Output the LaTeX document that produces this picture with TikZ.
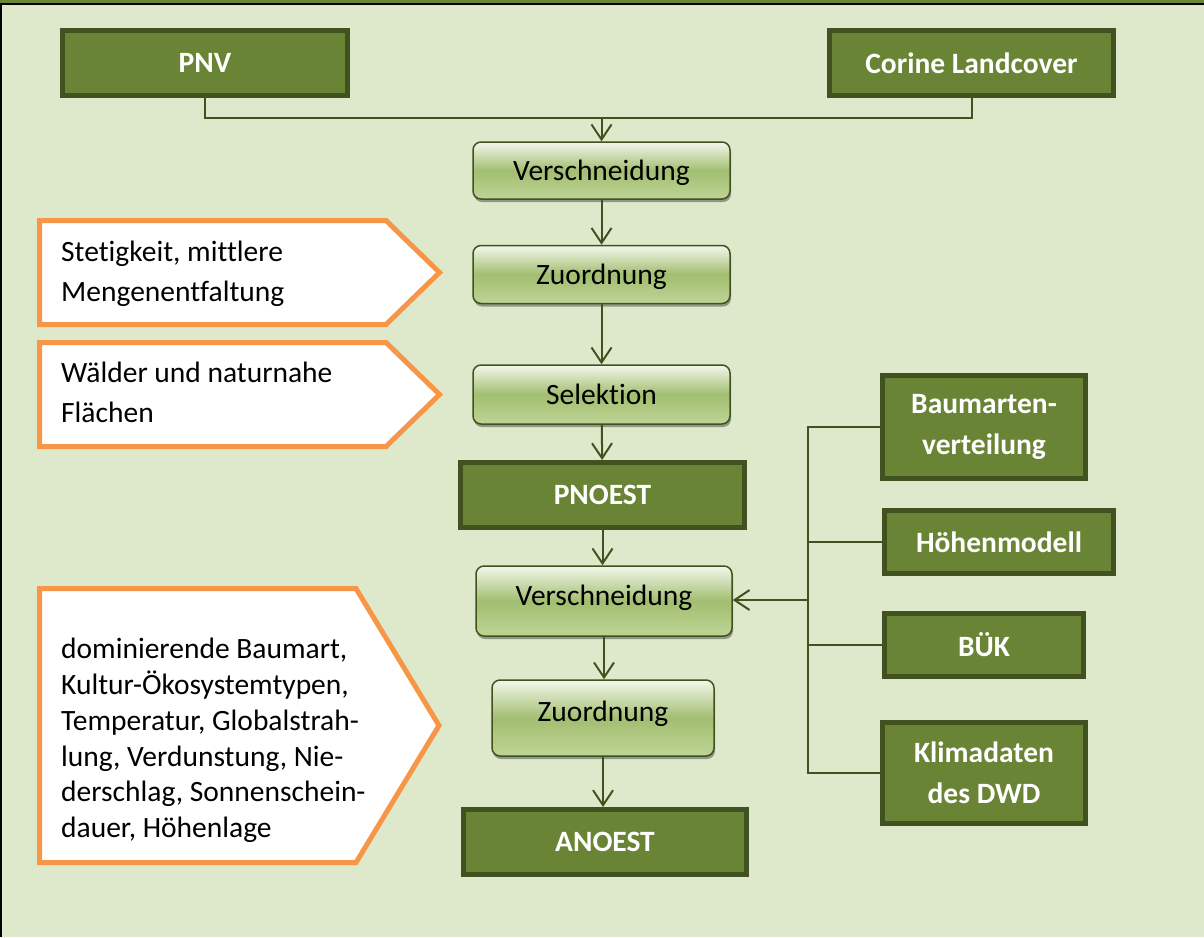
\documentclass[tikz,border=0pt]{standalone}
\usepackage{fontspec}
\setmainfont[Ligatures=NoCommon]{Carlito}
\usetikzlibrary{arrows.meta}
\usetikzlibrary{shadows}
\definecolor{hintergrund}{RGB}{222,232,203}
\definecolor{oliv}{RGB}{106,132,53}
\definecolor{olivdunkel}{RGB}{66,81,32}
\definecolor{rahmenorange}{RGB}{247,150,70}
\definecolor{schrittoben}{RGB}{243,247,236}
\definecolor{schrittmitte}{RGB}{162,190,112}
\definecolor{schrittunten}{RGB}{190,212,150}
\tikzset{
    daten/.style={
        draw=olivdunkel, line width=5pt, fill=oliv, text=white,
        font=\fontsize{29.5}{41}\selectfont\bfseries, align=center, inner sep=0pt
    },
    schritt/.style={
        draw=olivdunkel, line width=1.5pt, rounded corners=8pt,
        top color=schrittoben, bottom color=schrittunten, middle color=schrittmitte,
        drop shadow={shadow xshift=1pt, shadow yshift=-3pt, opacity=0.35, fill=black},
        font=\fontsize{29.5}{35}\selectfont, inner sep=0pt
    },
    tief/.style={text height=20pt, text depth=#1},
    linie/.style={draw=olivdunkel, line width=2pt},
    fluss/.style={linie, -{Straight Barb[length=15pt,width=20pt]}},
    hinweis/.style={draw=rahmenorange, line width=5pt, fill=white, line join=miter},
    hinweistext/.style={anchor=west, align=left, inner sep=0pt, font=\fontsize{29.5}{40}\selectfont}
}
\newcommand{\hinweis}[5] {
	\draw[hinweis] (#1,#2) -- (#4,#2) -- (#5,{(#2+#3)/2}) -- (#4,#3) -- (#1,#3) -- cycle;
}

\begin{document}
\begin{tikzpicture}[x=1pt,y=-1pt]
		\useasboundingbox (0,0) rectangle (1204,937);

		% Rahmen
		\fill[hintergrund] (0,0) rectangle (1204,937);
		\fill[oliv] (0,0) rectangle (1204,3);
		\fill[black] (0,3) rectangle (1204,4.5);
		\fill[black] (0,3) rectangle (1.5,937);

		% Quellen
		\node[daten, minimum width=285pt, minimum height=65pt] (pnv) at (205,63) {PNV};
		\node[daten, minimum width=284pt, minimum height=65pt] (corine) at (971.5,63) {Corine Landcover};

		% Ablauf
		\node[schritt, tief=-2pt, minimum width=257pt, minimum height=57pt] (versch1) at (601.5,170.5) {Verschneidung};
		\node[schritt, tief=-2pt, minimum width=257pt, minimum height=58pt] (zuord1) at (601.5,274.5) {Zuordnung};
		\node[schritt, tief=-2pt, minimum width=257pt, minimum height=59pt] (selekt) at (601.5,394.5) {Selektion};
		\node[daten, minimum width=284pt, minimum height=65pt] (pnoest) at (602.5,495) {PNOEST};
		\node[schritt, tief=11pt, minimum width=256pt, minimum height=70pt] (versch2) at (604,601) {Verschneidung};
		\node[schritt, tief=13pt, minimum width=222pt, minimum height=76pt] (zuord2) at (603,718) {Zuordnung};
		\node[daten, minimum width=283pt, minimum height=65pt] (anoest) at (605,842) {ANOEST};

		% Eingangsdaten rechts
		\node[daten, minimum width=203pt, minimum height=103pt] (baum) at (984,427) {Baumarten-\\verteilung};
		\node[daten, minimum width=229pt, minimum height=63pt] (hoehe) at (999,542) {Höhenmodell};
		\node[daten, minimum width=199pt, minimum height=63pt] (buek) at (984,645) {BÜK};
		\node[daten, minimum width=203pt, minimum height=101pt] (klima) at (984,773) {Klimadaten\\des DWD};

		% Verbindungen
		\coordinate (knoten) at (601.5,118);
		\draw[linie] (pnv.south) |- (knoten) -| (corine.south);
		\draw[fluss] (knoten) -- (versch1.north);
		\draw[fluss] (versch1) -- (zuord1);
		\draw[fluss] (zuord1) -- (selekt);
		\draw[fluss] (selekt) -- (pnoest);
		\draw[fluss] (pnoest.south) -- (pnoest.south |- versch2.north);
		\draw[fluss] (versch2.south) -- (versch2.south |- zuord2.north);
		\draw[fluss] (zuord2.south) -- (zuord2.south |- anoest.north);

		\coordinate (sammel) at (808,600);
		\draw[linie] (baum.west) -| (sammel |- klima.west) -- (klima.west);
		\draw[linie] (hoehe.west) -- (hoehe.west -| sammel);
		\draw[linie] (buek.west) -- (buek.west -| sammel);
		\draw[fluss] (sammel) -- (sammel -| versch2.east);

		% Hinweise links
		\hinweis{39.5}{220.5}{324.5}{386}{439.5}
		\node[hinweistext] (hinw1) at (61,273.5) {Stetigkeit, mittlere\\Mengenentfaltung};

		\hinweis{39.5}{342.5}{446.5}{386}{439.5}
		\node[hinweistext] (hinw2) at (61,392.5) {Wälder und naturnahe\\Flächen};

		\hinweis{39.5}{588.5}{862.5}{356}{439}
		\node[hinweistext, font=\fontsize{29.5}{35.8}\selectfont] (hinw3) at (61,740.5) {dominierende Baumart,\\Kultur-Ökosystemtypen,\\Temperatur, Globalstrah-\\lung, Verdunstung, Nie-\\derschlag, Sonnenschein-\\dauer, Höhenlage};

	\end{tikzpicture}
\end{document}
